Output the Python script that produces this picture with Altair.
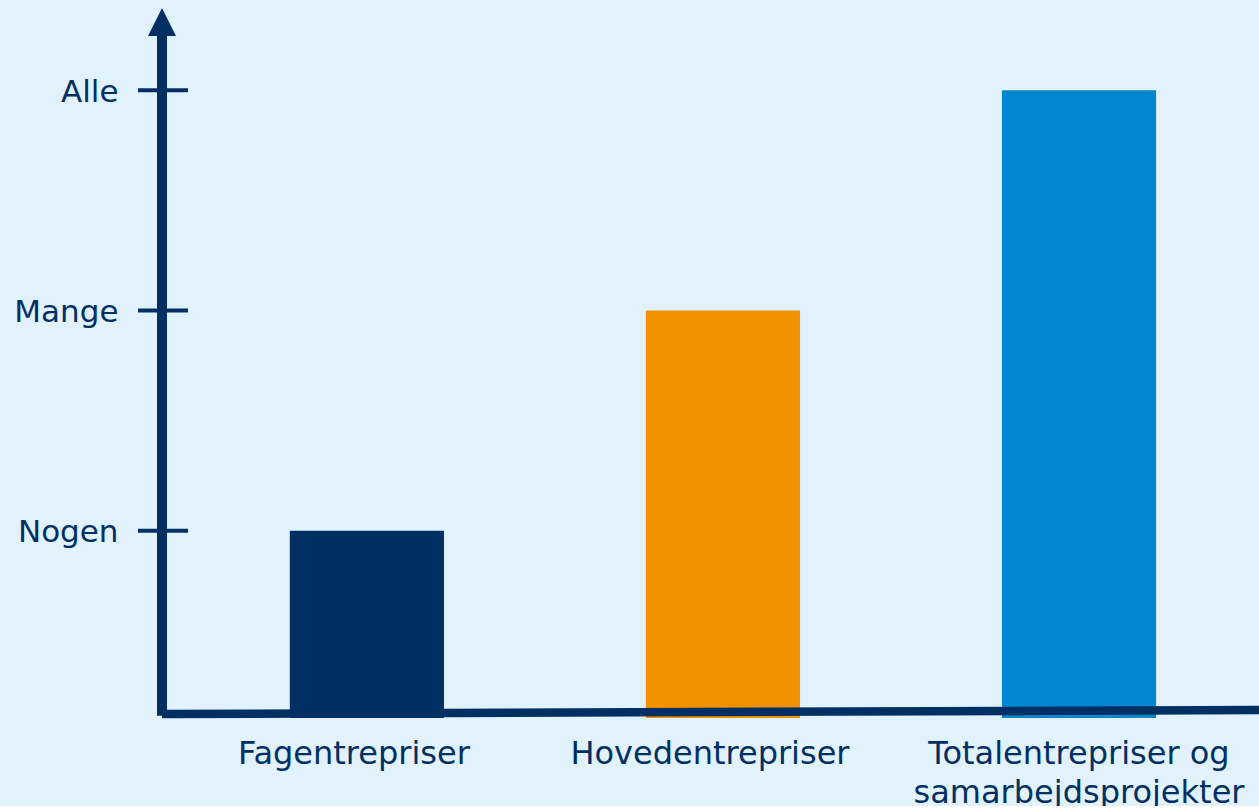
import altair as alt
import pandas as pd

# ---- data ----
categories = ["Fagentrepriser", "Hovedentrepriser", "Totalentrepriser og samarbejdsprojekter"]
values = [1, 2, 3]
bar_colors = ["#003063", "#F29100", "#0087D0"]
level_values = [1, 2, 3]
level_labels = ["Nogen", "Mange", "Alle"]

# ---- style ----
NAVY = "#003063"
BG = "#E1F2FC"
FONT = "DejaVu Sans"
Y_MIN, Y_MAX = 0.15, 3.31
W, H = 1097, 696

bars_df = pd.DataFrame({"cat": categories, "val": values})
levels_df = pd.DataFrame({"lvl": level_values})
one = pd.DataFrame({"k": [0]})

label_expr = " : ".join(
    f"datum.value == {v} ? '{t}'" for v, t in zip(level_values, level_labels)
) + " : ''"

x_label_expr = (
    "datum.label == 'Totalentrepriser og samarbejdsprojekter' "
    "? ['Totalentrepriser og', 'samarbejdsprojekter'] : datum.label"
)

y_scale = alt.Scale(domain=[Y_MIN, Y_MAX], nice=False, zero=False)

bars = alt.Chart(bars_df).mark_bar().encode(
    x=alt.X(
        "cat:N",
        sort=categories,
        scale=alt.Scale(paddingInner=0.567, paddingOuter=0.324, align=0.554),
        axis=alt.Axis(
            title=None, labelAngle=0, ticks=False, tickSize=0, domain=False,
            labelPadding=20, labelFontSize=32, labelFont=FONT, labelColor=NAVY,
            labelBaseline="top", labelAlign="center", labelLineHeight=39,
            labelLimit=0, labelOverlap=False, labelExpr=x_label_expr,
            labelOffset={
                "condition": {
                    "test": "datum.value != 'Totalentrepriser og samarbejdsprojekter'",
                    "value": -13,
                },
                "value": 0,
            },
        ),
    ),
    y=alt.Y(
        "val:Q",
        scale=y_scale,
        axis=alt.Axis(
            title=None, values=level_values, labelExpr=label_expr, grid=False,
            ticks=False, tickSize=0, domain=False, labelPadding=44,
            labelFontSize=31, labelFont=FONT, labelColor=NAVY,
            labelBaseline="middle", labelAlign="right", labelOverlap=False,
            labelFlush=False, labelOffset=2,
        ),
    ),
    y2=alt.Y2(datum=Y_MIN),
    color=alt.Color("cat:N", scale=alt.Scale(domain=categories, range=bar_colors), legend=None),
)

# slightly tilted horizontal axis line
x_line = alt.Chart(one).mark_rule(color=NAVY, strokeWidth=8.5, strokeCap="butt").encode(
    x=alt.value(0), x2=alt.value(W),
    y=alt.Y(datum=0.168, scale=y_scale), y2=alt.Y2(datum=0.186),
)

# vertical axis line
y_line = alt.Chart(one).mark_rule(color=NAVY, strokeWidth=10, strokeCap="butt").encode(
    x=alt.value(0),
    y=alt.Y(datum=Y_MIN + 0.01, scale=y_scale), y2=alt.Y2(datum=Y_MAX),
)

# tick marks crossing the axis
ticks = alt.Chart(levels_df).mark_rule(color=NAVY, strokeWidth=4, strokeCap="butt").encode(
    x=alt.value(-24), x2=alt.value(26),
    y=alt.Y("lvl:Q", scale=y_scale),
)

# arrow head
arrow = alt.Chart(one).mark_point(
    shape="M-1,1L1,1L0,-1Z", size=784, filled=True, color=NAVY, opacity=1, strokeWidth=0
).encode(
    x=alt.value(0),
    y=alt.Y(datum=Y_MAX, scale=y_scale),
)

chart = alt.layer(bars, x_line, y_line, ticks, arrow).properties(
    width=W, height=H,
    padding={"left": 162, "top": 22, "right": 0, "bottom": 88},
    autosize=alt.AutoSizeParams(type="none"),
    background=BG,
).configure_view(stroke=None)

chart.save("out.html", embed_options={"renderer": "svg", "actions": False})
